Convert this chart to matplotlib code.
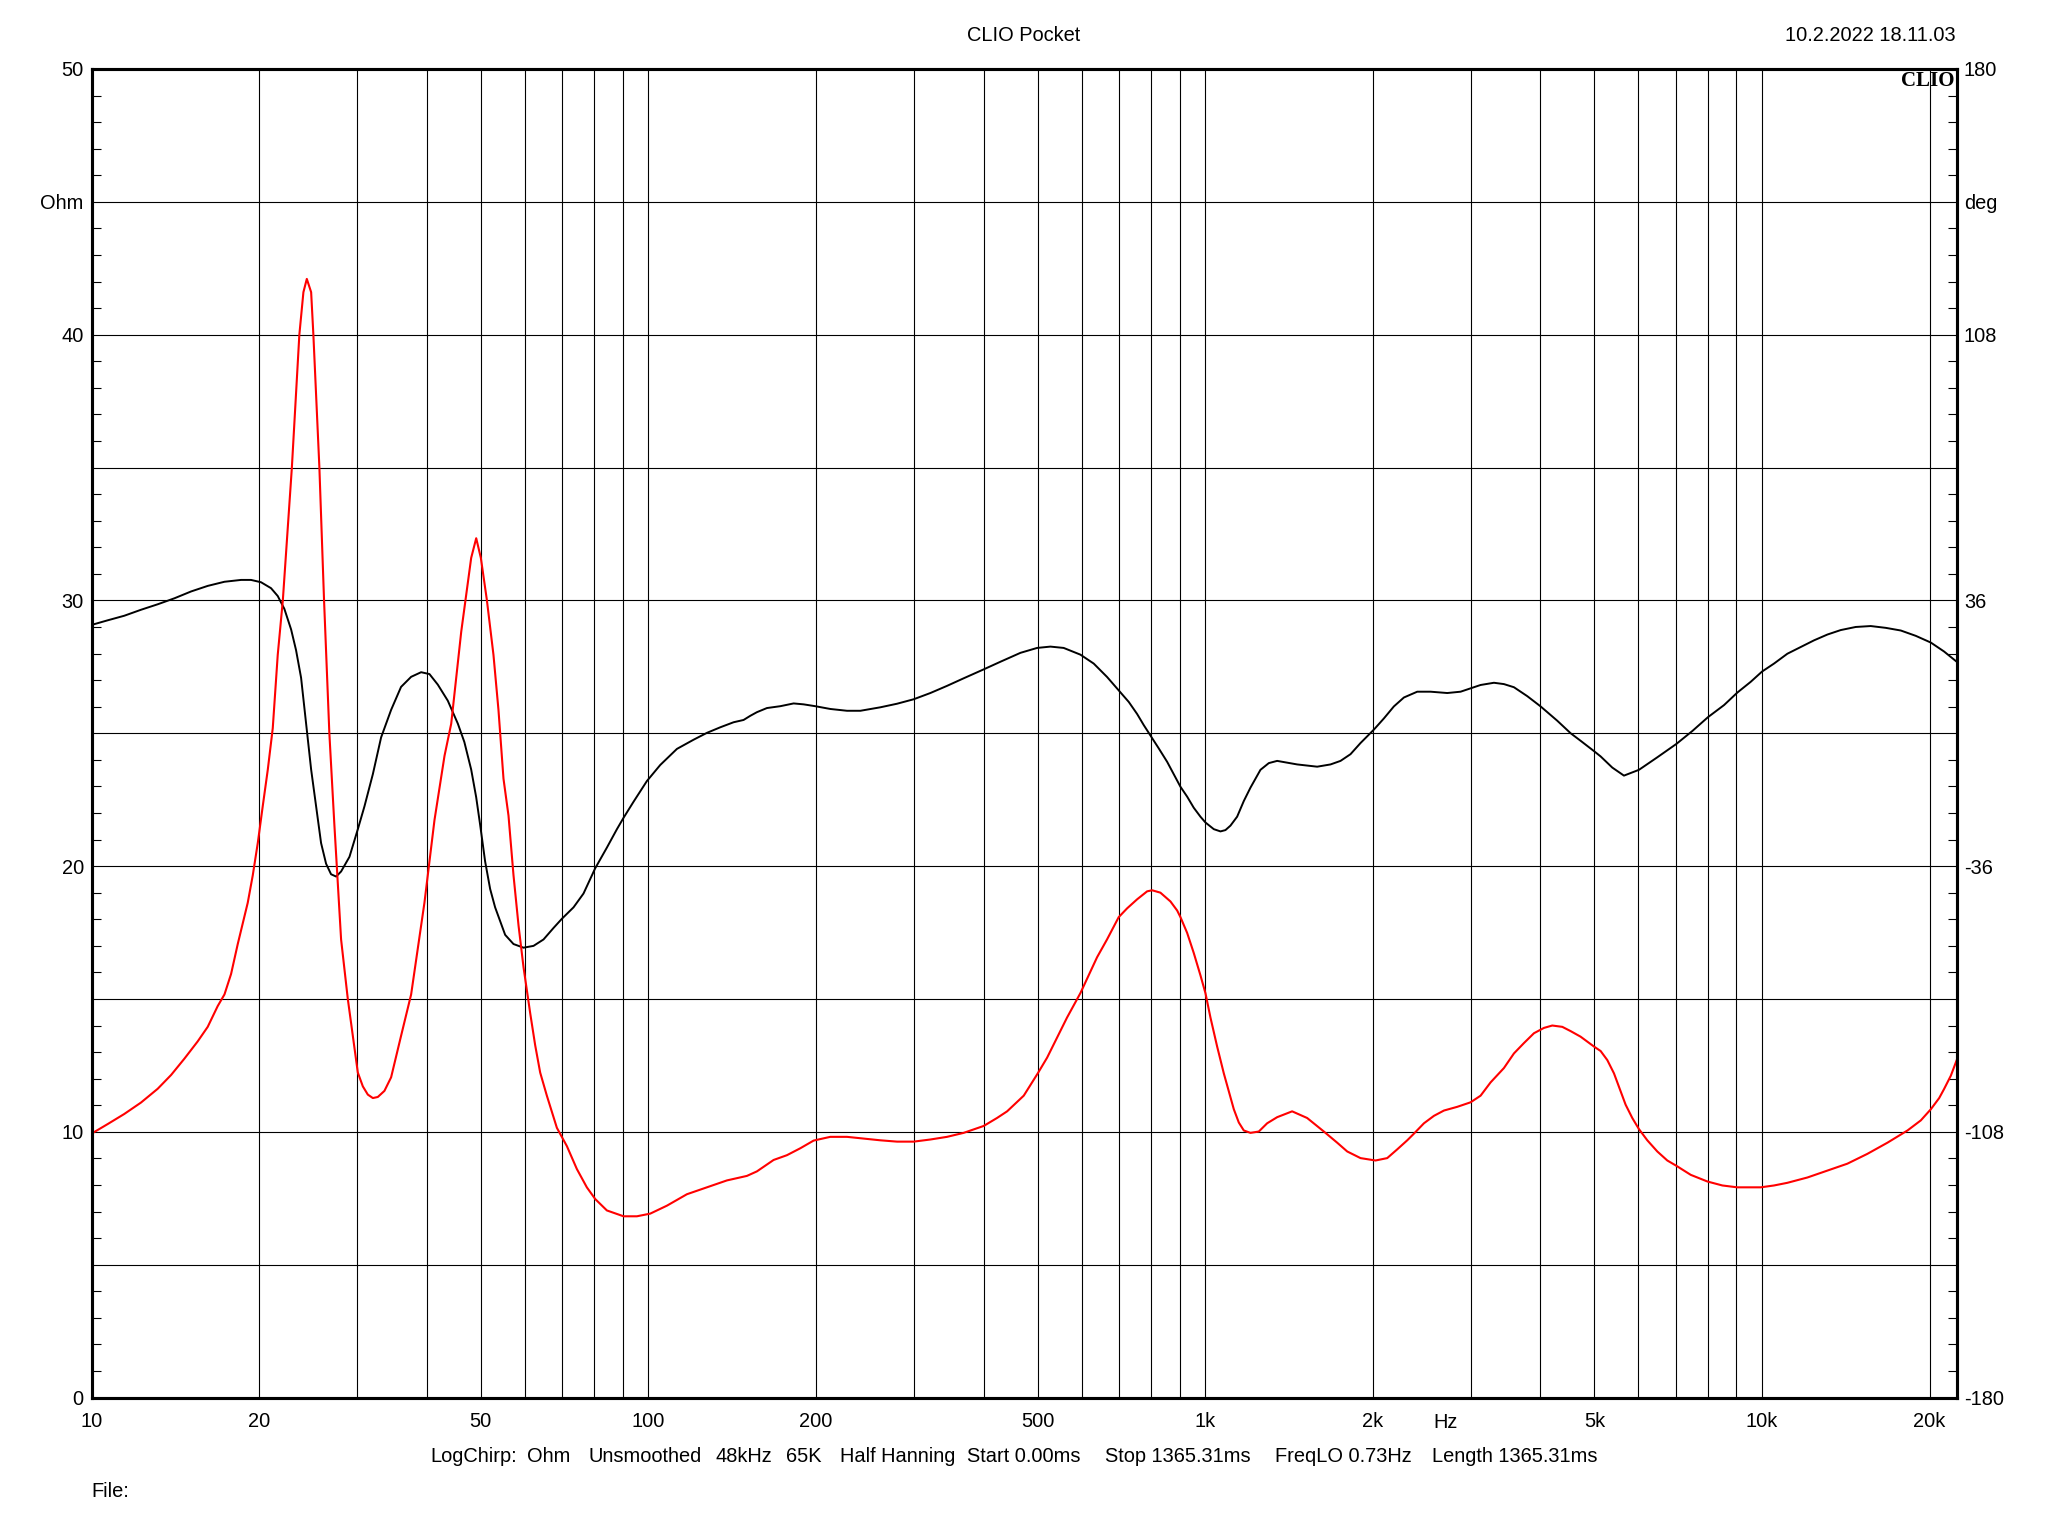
import matplotlib
matplotlib.use('Agg')
import matplotlib.pyplot as plt
import matplotlib.ticker as mticker
import matplotlib.transforms as mtransforms

plt.rcParams['font.family'] = ['Liberation Sans', 'DejaVu Sans']

# ---------------- data ----------------
# Impedance magnitude (Ohm), red curve, left axis
imp_freq = [10, 10.69, 11.45, 12.27, 13.15, 13.90, 14.68, 15.51, 16.17, 16.85,
            17.33, 17.81, 18.31, 18.69, 19.08, 19.48, 19.89, 20.30, 20.73, 21.16,
            21.60, 22.06, 22.90, 23.62, 24.02, 24.36, 24.80, 25.03, 25.66, 26.16,
            26.74, 27.30, 28.07, 28.86, 30.08, 30.71, 31.35, 32.01, 32.67, 33.58,
            34.52, 35.97, 37.50, 39.62, 41.30, 43.05, 44.26, 46.13, 48.07, 49.08,
            50.03, 51.28, 52.71, 53.81, 54.94, 56.09, 57.26, 58.47, 59.68, 61.35,
            62.63, 63.94, 65.73, 68.51, 71.41, 74.41, 77.55, 80.28, 84.25, 90.27,
            95.39, 100.79, 108.0, 117.29, 127.43, 138.40, 150.33, 156.68, 167.88, 177.40,
            187.46, 198.10, 212.22, 227.41, 261.0, 279.7, 299.6, 321.0, 343.9, 368.4,
            400.2, 422.9, 440.9, 472.3, 500.5, 520.2, 542.0, 564.9, 597.0, 617.9,
            639.6, 666.5, 699.5, 724.2, 754.8, 786.7, 803.1, 831.1, 866.3, 890.6,
            902.9, 928.1, 954.0, 980.7, 1001.2, 1022.2, 1050.8, 1080.2, 1102.8, 1125.8,
            1149.3, 1173.3, 1206.1, 1248.4, 1292.2, 1346.8, 1432.9, 1524.6, 1633.9, 1726.4,
            1799.4, 1901.2, 2022.9, 2123.1, 2213.1, 2306.5, 2371.0, 2471.2, 2575.4, 2684.2,
            2836.3, 2997.2, 3123.8, 3255.6, 3440.3, 3585.6, 3737.1, 3895.1, 4059.4, 4201.8,
            4379.3, 4532.2, 4723.6, 4991.4, 5131.5, 5275.0, 5422.5, 5536, 5690, 5849,
            6013.2, 6223.9, 6486.3, 6760.6, 7019.5, 7448.4, 7978.4, 8489, 9030.5, 9946.5,
            10510, 11107, 12066, 13107, 14235, 15463, 16801, 18253, 19288, 20104,
            20809, 21234, 21834, 22375]
imp_ohm = [9.93, 10.29, 10.67, 11.1, 11.62, 12.14, 12.75, 13.4, 13.95, 14.73,
           15.17, 15.94, 17.07, 17.84, 18.62, 19.65, 20.87, 22.25, 23.63, 25.19,
           27.95, 30.0, 35.0, 40.0, 41.6, 42.1, 41.6, 40.0, 35.0, 30.0,
           25.0, 21.56, 17.24, 15.0, 12.23, 11.71, 11.4, 11.27, 11.31, 11.54,
           12.05, 13.61, 15.17, 18.62, 21.73, 24.15, 25.36, 28.82, 31.6, 32.34,
           31.6, 30.03, 27.95, 25.88, 23.29, 21.9, 19.66, 17.76, 16.2, 14.47,
           13.26, 12.23, 11.36, 10.15, 9.46, 8.6, 7.91, 7.47, 7.04, 6.82,
           6.82, 6.92, 7.22, 7.65, 7.91, 8.17, 8.34, 8.51, 8.94, 9.12,
           9.38, 9.67, 9.81, 9.81, 9.68, 9.63, 9.63, 9.71, 9.81, 9.96,
           10.22, 10.52, 10.77, 11.36, 12.2, 12.79, 13.54, 14.3, 15.22, 15.89,
           16.57, 17.24, 18.08, 18.41, 18.75, 19.05, 19.09, 19.0, 18.67, 18.33,
           18.08, 17.49, 16.73, 15.89, 15.22, 14.3, 13.21, 12.2, 11.53, 10.85,
           10.35, 10.05, 9.96, 10.01, 10.32, 10.55, 10.77, 10.52, 10.01, 9.59,
           9.26, 9.01, 8.92, 9.01, 9.34, 9.68, 9.93, 10.32, 10.6, 10.8,
           10.94, 11.11, 11.36, 11.86, 12.4, 12.95, 13.34, 13.71, 13.91, 14.0,
           13.95, 13.79, 13.58, 13.21, 13.04, 12.7, 12.2, 11.69, 11.02, 10.52,
           10.1, 9.68, 9.26, 8.92, 8.72, 8.38, 8.13, 7.98, 7.91, 7.91,
           7.98, 8.08, 8.28, 8.54, 8.8, 9.17, 9.59, 10.05, 10.43, 10.85,
           11.27, 11.61, 12.11, 12.7]

# Phase (deg), black curve, right axis
ph_freq = [10, 10.69, 11.45, 12.27, 13.15, 14.09, 15.10, 16.17, 17.33, 18.56,
           19.34, 20.16, 21.01, 21.60, 22.20, 22.83, 23.30, 23.79, 24.29, 24.80,
           25.31, 25.84, 26.38, 26.93, 27.50, 28.07, 29.06, 30.08, 30.92, 32.01,
           33.12, 34.52, 35.97, 37.50, 39.08, 40.45, 41.87, 43.64, 45.49, 46.73,
           48.07, 49.07, 49.88, 50.92, 51.99, 53.07, 54.18, 55.32, 57.26, 59.68,
           62.20, 64.83, 67.57, 69.94, 73.40, 76.49, 80.28, 84.25, 87.81, 90.27,
           94.08, 99.41, 105.05, 112.56, 120.58, 127.43, 134.63, 142.27, 148.27, 152.42,
           156.68, 163.30, 172.57, 182.36, 190.06, 199.47, 212.22, 227.41, 240.35, 261.0,
           279.7, 299.6, 321.0, 343.9, 368.4, 400.2, 428.8, 465.9, 499.1, 527.4,
           557.1, 597.0, 630.8, 666.5, 699.5, 729.2, 754.8, 775.9, 797.5, 825.4,
           854.5, 878.3, 902.9, 928.1, 954.0, 980.7, 1001.2, 1036.4, 1065.4, 1087.6,
           1110.4, 1141.4, 1173.3, 1206.1, 1257.0, 1301.1, 1346.8, 1463.1, 1589.2, 1679.5,
           1750.4, 1824.2, 1901.2, 2009.0, 2094.0, 2182.4, 2274.8, 2403.8, 2540.1, 2721.5,
           2875.7, 2956.2, 3123.8, 3300.9, 3440.3, 3585.6, 3788.9, 4003.8, 4288.6, 4532.2,
           4723.6, 4991.4, 5131.5, 5384.8, 5651.0, 6013.2, 6486.3, 7019.5, 7499.8, 8000.5,
           8547.9, 9030.5, 9543.9, 10001.6, 10510, 11107, 11735, 12403, 13107, 13849,
           14735, 15678, 16686, 17756, 18893, 20104, 21234, 22375]
ph_deg = [29.35, 30.6, 31.84, 33.46, 34.95, 36.57, 38.43, 39.93, 41.05, 41.55,
          41.55, 40.92, 39.31, 37.19, 33.71, 28.11, 22.51, 15.04, 2.6, -9.84,
          -19.79, -29.75, -35.35, -38.21, -38.83, -37.46, -33.48, -26.01, -19.79, -11.08,
          -1.13, 6.33, 12.56, 15.29, 16.54, 16.04, 13.18, 8.82, 2.6, -2.37,
          -9.84, -17.31, -24.77, -34.72, -42.19, -47.17, -50.9, -54.63, -57.12, -58.11,
          -57.62, -55.88, -52.76, -50.28, -47.17, -43.43, -36.59, -30.99, -26.01, -22.9,
          -18.55, -12.95, -8.6, -4.24, -1.75, 0.11, 1.61, 2.98, 3.6, 4.72,
          5.71, 6.83, 7.33, 8.08, 7.83, 7.33, 6.58, 6.09, 6.09, 7.03,
          8.0, 9.21, 10.9, 12.84, 14.89, 17.31, 19.37, 21.79, 23.12, 23.48,
          23.12, 21.3, 18.88, 15.26, 11.63, 8.48, 5.22, 2.19, -0.59, -4.1,
          -7.73, -11.12, -14.5, -17.16, -20.19, -22.61, -24.18, -25.99, -26.6, -26.24,
          -25.03, -22.61, -18.37, -14.74, -9.91, -8.09, -7.49, -8.45, -9.06, -8.45,
          -7.49, -5.67, -2.65, 0.98, 4.01, 7.27, 9.69, 11.26, 11.26, 10.9,
          11.26, 11.87, 13.08, 13.68, 13.32, 12.47, 10.05, 7.27, 3.4, 0.01,
          -2.04, -4.83, -6.28, -9.3, -11.48, -9.91, -6.52, -2.89, 0.62, 4.37,
          7.63, 11.02, 13.93, 16.71, 18.88, 21.55, 23.36, 25.18, 26.75, 27.96,
          28.8, 29.05, 28.56, 27.84, 26.39, 24.57, 22.15, 19.37]

x_ticks = [10, 20, 50, 100, 200, 500, 1000, 2000, 5000, 10000, 20000]
x_labels = ['10', '20', '50', '100', '200', '500', '1k', '2k', '5k', '10k', '20k']
x_grid_minor = [30, 40, 60, 70, 80, 90, 300, 400, 600, 700, 800, 900,
                3000, 4000, 6000, 7000, 8000, 9000]
x_unit_label = 'Hz'
x_unit_pos = 2700

y_left_ticks = [0, 5, 10, 15, 20, 25, 30, 35, 40, 45, 50]
y_left_labels = ['0', '', '10', '', '20', '', '30', '', '40', 'Ohm', '50']
y_right_ticks = [-180, -108, -36, 36, 108, 144, 180]
y_right_labels = ['-180', '-108', '-36', '36', '108', 'deg', '180']

title = 'CLIO Pocket'
timestamp = '10.2.2022 18.11.03'
logo = 'CLIO'
footer_fields = ['LogChirp:', 'Ohm', 'Unsmoothed', '48kHz', '65K', 'Half Hanning',
                 'Start 0.00ms', 'Stop 1365.31ms', 'FreqLO 0.73Hz', 'Length 1365.31ms']
file_label = 'File:'

# ---------------- layout ----------------
W, H = 2048, 1536
FS = 14.4
footer_px = [430.7, 526.9, 588.2, 715, 786.4, 839.5, 967.2, 1104.8, 1274.8, 1432.3]

fig = plt.figure(figsize=(W / 100, H / 100), dpi=100)
L, R, T, B = 91.5, 1957, 69, 1397.5
ax = fig.add_axes([L / W, 1 - B / H, (R - L) / W, (B - T) / H])
ax2 = ax.twinx()

ax.set_xscale('log')
ax.set_xlim(10, 22400)
ax.set_ylim(0, 50)
ax2.set_ylim(-180, 180)

# phase underneath, impedance on top
ax2.plot(ph_freq, ph_deg, color='black', lw=1.4, solid_joinstyle='round')
ax.plot(imp_freq, imp_ohm, color='#ff0000', lw=1.5, solid_joinstyle='round')
ax.set_zorder(ax2.get_zorder() + 1)
ax.patch.set_visible(False)

ax.set_xticks(x_ticks)
ax.set_xticklabels(x_labels)
ax.set_xticks(x_grid_minor, minor=True)
ax.xaxis.set_minor_formatter(mticker.NullFormatter())
ax.tick_params(axis='x', which='both', length=0, labelsize=FS, pad=10.5)
ax.grid(True, which='both', axis='x', color='black', lw=0.8)

ax.set_yticks(y_left_ticks)
ax.set_yticklabels(y_left_labels)
ax.set_yticks([v for v in range(0, 51) if v % 5], minor=True)
ax.tick_params(axis='y', which='major', length=0, labelsize=FS, pad=5.5)
ax.tick_params(axis='y', which='minor', left=True, right=True, direction='in',
               length=6.5, width=0.8)
ax.grid(True, which='major', axis='y', color='black', lw=0.8)

ax2.set_yticks(y_right_ticks)
ax2.set_yticklabels(y_right_labels)
ax2.tick_params(axis='y', which='both', length=0, labelsize=FS, pad=5)

for a in (ax, ax2):
    for s in a.spines.values():
        s.set_linewidth(2.2)
        s.set_color('black')

tr = mtransforms.blended_transform_factory(ax.transData, fig.transFigure)
ax.text(x_unit_pos, 1 - 1427.7 / H, x_unit_label, transform=tr, ha='center',
        va='baseline', fontsize=FS)

fig.text(0.5, 1 - 40.7 / H, title, ha='center', va='baseline', fontsize=FS)
fig.text(1956 / W, 1 - 40.7 / H, timestamp, ha='right', va='baseline', fontsize=FS)
fig.text(1955 / W, 1 - 86 / H, logo, ha='right', va='baseline', fontsize=15,
         family='Liberation Serif', weight='bold')

for txt, px in zip(footer_fields, footer_px):
    fig.text(px / W, 1 - 1462.5 / H, txt, ha='left', va='baseline', fontsize=FS)
fig.text(L / W, 1 - 1496.7 / H, file_label, ha='left', va='baseline', fontsize=FS)

fig.savefig('out.png', dpi=100, facecolor='white')
